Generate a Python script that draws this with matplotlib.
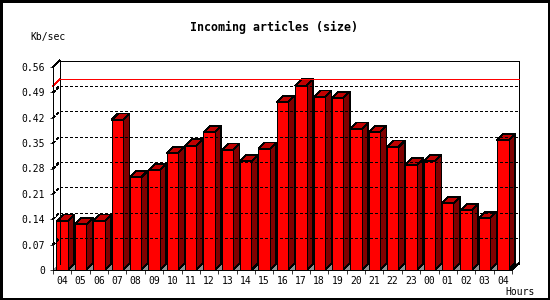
import numpy as np
import matplotlib
matplotlib.use("Agg")
import matplotlib.pyplot as plt
from matplotlib.patches import Polygon, Rectangle
from matplotlib.lines import Line2D
from matplotlib.transforms import IdentityTransform

plt.rcParams['lines.scale_dashes'] = False
plt.rcParams['lines.antialiased'] = False
plt.rcParams['patch.antialiased'] = False

hours = ["04", "05", "06", "07", "08", "09", "10", "11", "12", "13", "14", "15",
         "16", "17", "18", "19", "20", "21", "22", "23", "00", "01", "02", "03", "04"]
kb_sec = [0.135, 0.126, 0.135, 0.414, 0.256, 0.275, 0.322, 0.343, 0.380, 0.331,
          0.300, 0.334, 0.463, 0.508, 0.477, 0.474, 0.389, 0.380, 0.339, 0.290,
          0.300, 0.184, 0.165, 0.143, 0.358]
y_ticks = [0, 0.07, 0.14, 0.21, 0.28, 0.35, 0.42, 0.49, 0.56]
y_labels = ["0", "0.07", "0.14", "0.21", "0.28", "0.35", "0.42", "0.49", "0.56"]

MONO = "DejaVu Sans Mono"
DX, DY = 6.5, 6.5      # 3d depth in pixels
LW = 0.55              # one crisp pixel at 100 dpi
BAR_W = 0.62

fig = plt.figure(figsize=(5.5, 3), dpi=100)
fig.patches.append(Rectangle((0, 0), 1, 1, transform=fig.transFigure, fill=False,
                             edgecolor="black", linewidth=2.2))
ax = fig.add_axes([53 / 550, 30 / 300, 459 / 550, 203 / 300])
n = len(kb_sec)
ax.set_xlim(-0.5, n - 0.5)
ax.set_ylim(0, 0.56)
for s in ["top", "right"]:
    ax.spines[s].set_visible(False)
for s in ["left", "bottom"]:
    ax.spines[s].set_linewidth(LW)
    ax.spines[s].set_antialiased(False)
ax.patch.set_visible(False)

ax.set_yticks(y_ticks)
ax.set_yticklabels(y_labels, family=MONO, fontsize=7)
ax.tick_params(axis="y", length=2.2, width=LW, pad=3.4)
ax.set_xticks(np.arange(-0.5, n, 1))
ax.set_xticklabels([])
ax.tick_params(axis="x", which="major", length=2.9, width=LW)
ax.set_xticks(np.arange(n), minor=True)
ax.set_xticklabels(hours, minor=True, family=MONO, fontsize=7)
ax.tick_params(axis="x", which="minor", length=0, pad=4.0)

ident = IdentityTransform()


def front(x, y):
    return ax.transData.transform((x, y))


def back(x, y):
    return front(x, y) + np.array([DX, DY])


def line(p, q, **kw):
    kw.setdefault("color", "black")
    kw.setdefault("linewidth", LW)
    ax.add_line(Line2D([p[0], q[0]], [p[1], q[1]], transform=ident, clip_on=False, **kw))


x0, x1 = -0.5, n - 0.5
top = y_ticks[-1]

# back wall frame
line(back(x0, 0), back(x0, top))
line(back(x0, top), back(x1, top))
line(back(x1, top), back(x1, 0))
line(front(x0, top), back(x0, top))
line(front(x1, 0), back(x1, 0))

# dotted grid on back wall
for v in y_ticks[1:-1]:
    line(back(x0, v), back(x1, v), linestyle=(0, (1.6, 1.6)))
    line(front(x0, v), back(x0, v), linestyle=(0, (1.6, 1.6)))

# max line
vmax = max(kb_sec)
line(back(x0, vmax), back(x1, vmax), color="red")
line(front(x0, vmax), back(x0, vmax), color="red")

# floor
floor = [front(x0, 0), front(x1, 0), back(x1, 0), back(x0, 0)]
ax.add_patch(Polygon(floor, closed=True, transform=ident, facecolor="#909090",
                     edgecolor="none", clip_on=False))

# bars
for i, v in enumerate(kb_sec):
    l, r = i - BAR_W / 2, i + BAR_W / 2
    side = [front(r, 0), front(r, v), back(r, v), back(r, 0)]
    ax.add_patch(Polygon(side, closed=True, transform=ident, facecolor="#800000",
                         edgecolor="black", linewidth=LW, clip_on=False))
    lid = [front(l, v), front(r, v), back(r, v), back(l, v)]
    ax.add_patch(Polygon(lid, closed=True, transform=ident, facecolor="#c00000",
                         edgecolor="black", linewidth=LW, clip_on=False))
    ax.add_patch(Rectangle((l, 0), BAR_W, v, facecolor="#ff0000",
                           edgecolor="black", linewidth=LW, clip_on=False))

fig.text(274 / 550, 1 - 27 / 300, "Incoming articles (size)", ha="center", va="center",
         family=MONO, fontweight="bold", fontsize=8.4)
fig.text(30 / 550, 1 - 37 / 300, "Kb/sec", ha="left", va="center", family=MONO, fontsize=7)
fig.text(505 / 550, 1 - 292 / 300, "Hours", ha="left", va="center", family=MONO, fontsize=7)

fig.savefig("out.png", dpi=100)
